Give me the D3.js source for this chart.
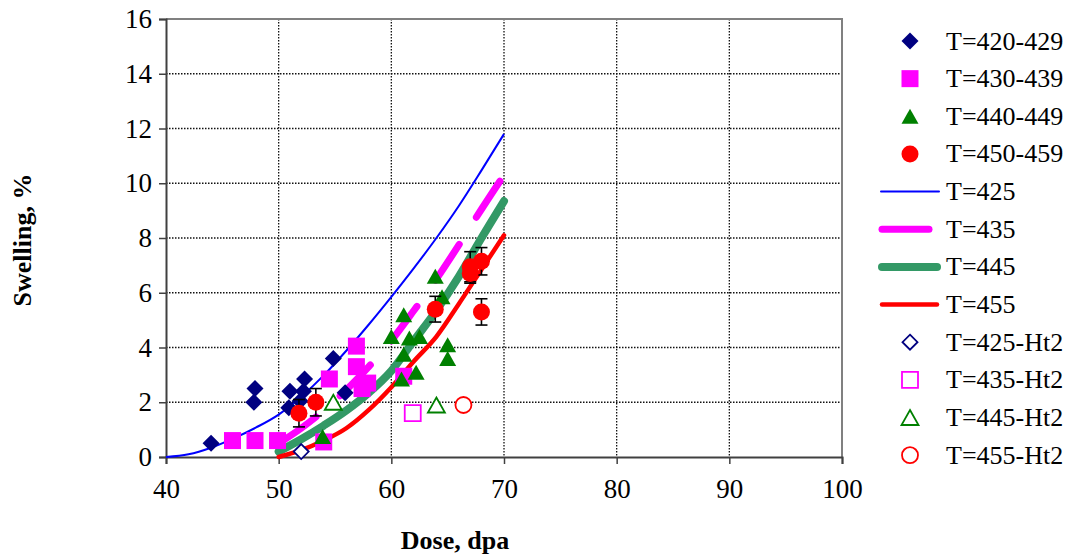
<!DOCTYPE html>
<html><head><meta charset="utf-8">
<script src="https://cdn.jsdelivr.net/npm/d3@7"></script>
<style>body{margin:0;background:#fff}svg{display:block}</style>
</head><body>
<svg id="chart" width="1072" height="558"></svg>
<script>
// ---------- data ----------
const xTicks = [40, 50, 60, 70, 80, 90, 100];
const yTicks = [0, 2, 4, 6, 8, 10, 12, 14, 16];

// measured points [dose, swelling]
const d420 = [[44,0.5],[47.9,2.5],[47.8,2.0],[51.0,2.4],[50.9,1.8],[52.3,2.85],[52.2,2.4],[51.9,2.05],[54.85,3.6],[55.9,2.35]];
const d430 = [[45.9,0.6],[47.9,0.6],[49.9,0.6],[54.0,0.55],[54.5,2.85],[56.9,4.05],[56.9,3.3],[57.4,2.5],[57.9,2.7],[61.1,2.95]];
const d440 = [[53.9,0.75],[60.9,2.85],[61.1,5.2],[60.0,4.4],[61.6,4.35],[62.5,4.4],[61.1,3.75],[62.2,3.1],[65.0,4.1],[65.0,3.6],[63.9,6.6],[64.5,5.85]];
const d450 = [[51.8,1.6],[53.3,2.0],[63.9,5.4],[68.0,5.3],[67.0,6.95],[68.0,7.15],[67.0,6.7]];
const d450Err = [0.5, 0.5, 0.47, 0.48, 0.55, 0.5, 0.35];

// model curves
const fit425 = [[40,0],[42,0.1],[44,0.34],[46,0.68],[48,1.08],[50,1.55],[52,2.2],[54,2.98],[56,3.88],[58,4.84],[60,5.85],[62,6.9],[64,8.0],[66,9.18],[68,10.47],[70,11.8]];
const fit435 = [[50,0.5],[52,1.05],[54,1.7],[56,2.45],[58,3.3],[60,4.25],[62,5.35],[64,6.5],[66,7.75],[68,9.05],[70,10.3]];
const fit445 = [[50,0.2],[52,0.65],[54,1.15],[56,1.7],[58,2.35],[60,3.15],[62,4.25],[64,5.35],[66,6.6],[68,8.0],[70,9.35]];
const fit455 = [[50,0.0],[52,0.25],[54,0.6],[56,1.05],[58,1.72],[60,2.55],[62,3.5],[64,4.4],[66,5.6],[68,6.85],[70,8.1]];

// after heat treatment 2
const ht425 = [[52.0,0.2]];
const ht435 = [[61.9,1.6]];
const ht445 = [[54.85,2.0],[64.0,1.9]];
const ht455 = [[66.4,1.9]];

const legendLabels = ["T=420-429","T=430-439","T=440-449","T=450-459","T=425","T=435","T=445","T=455","T=425-Ht2","T=435-Ht2","T=445-Ht2","T=455-Ht2"];

// ---------- layout ----------
const svg = d3.select("#chart");
const L = 166, R = 842, T = 19, B = 457;
const x = d3.scaleLinear().domain([40,100]).range([L,R]);
const y = d3.scaleLinear().domain([0,16]).range([B,T]);
const FONT = "'Liberation Serif','Times New Roman',serif";

// gridlines
const grid = svg.append("g");
grid.selectAll(".gx").data(xTicks.filter(v=>v>40&&v<100)).join("line")
  .attr("x1",d=>x(d)).attr("x2",d=>x(d)).attr("y1",T).attr("y2",B)
  .attr("stroke","#111").attr("stroke-width",1.3).attr("stroke-dasharray","1.5,1.5");
grid.selectAll(".gy").data(yTicks.filter(v=>v>0&&v<16)).join("line")
  .attr("x1",L).attr("x2",R).attr("y1",d=>y(d)).attr("y2",d=>y(d))
  .attr("stroke","#111").attr("stroke-width",1.3).attr("stroke-dasharray","1.5,1.5");

// frame (top / right)
svg.append("path").attr("d",`M${L},${T}H${R}V${B}`).attr("fill","none").attr("stroke","#808080").attr("stroke-width",2);

// axes
const xAxis = d3.axisBottom(x).tickValues(xTicks).tickSize(7).tickPadding(15).tickFormat(d3.format("d"));
const yAxis = d3.axisLeft(y).tickValues(yTicks).tickSize(7).tickPadding(7).tickFormat(d3.format("d"));
const gx = svg.append("g").attr("transform",`translate(0,${B})`).call(xAxis);
const gy = svg.append("g").attr("transform",`translate(${L},0)`).call(yAxis);
[gx,gy].forEach(g=>{
  g.select(".domain").attr("stroke","#404040").attr("stroke-width",2);
  g.selectAll(".tick line").attr("stroke","#404040").attr("stroke-width",1.5);
  g.selectAll(".tick text").attr("font-family",FONT).attr("font-size",27).attr("fill","#000");
});

// axis titles
svg.append("text").attr("x",455).attr("y",549).attr("text-anchor","middle")
  .attr("font-family",FONT).attr("font-weight","bold").attr("font-size",26).text("Dose, dpa");
svg.append("text").attr("transform",`translate(31,240) rotate(-90)`).attr("text-anchor","middle")
  .attr("font-family",FONT).attr("font-weight","bold").attr("font-size",26).text("Swelling, %");

// ---------- curves ----------
const line = d3.line().x(d=>x(d[0])).y(d=>y(d[1])).curve(d3.curveMonotoneX);
const plot = svg.append("g");
plot.append("path").attr("d",line(fit425)).attr("fill","none").attr("stroke","#0000FF").attr("stroke-width",2);
plot.append("path").attr("d",line(fit435)).attr("fill","none").attr("stroke","#FF00FF").attr("stroke-width",7)
  .attr("stroke-linecap","round").attr("stroke-dasharray","43,32").attr("stroke-dashoffset",-3);
plot.append("path").attr("d",line(fit445)).attr("fill","none").attr("stroke","#339966").attr("stroke-width",8).attr("stroke-linecap","round");
plot.append("path").attr("d",line(fit455)).attr("fill","none").attr("stroke","#FF0000").attr("stroke-width",4.5).attr("stroke-linecap","round");

// ---------- marker shapes ----------
const shapes = {
  diamond: "M0,-8.5L8.5,0L0,8.5L-8.5,0Z",
  square: "M-8.5,-8.5H8.5V8.5H-8.5Z",
  triangle: "M0,-7.5L8.5,7.5L-8.5,7.5Z",
  circle: "M8.5,0A8.5,8.5 0 1 1 -8.5,0A8.5,8.5 0 1 1 8.5,0Z",
  odiamond: "M0,-7.5L7.5,0L0,7.5L-7.5,0Z",
  osquare: "M-8,-8H8V8H-8Z",
  otriangle: "M0,-7.5L8.5,7.5L-8.5,7.5Z",
  ocircle: "M8,0A8,8 0 1 1 -8,0A8,8 0 1 1 8,0Z"
};
function markers(data, shape, fill, stroke){
  plot.append("g").selectAll("path").data(data).join("path")
    .attr("transform",d=>`translate(${x(d[0])},${y(d[1])})`)
    .attr("d",shapes[shape]).attr("fill",fill)
    .attr("stroke",stroke||"none").attr("stroke-width",stroke?1.8:0);
}
markers(d420,"diamond","#000080");
markers(d430,"square","#FF00FF");
markers(d440,"triangle","#008000");

// error bars for 450-459
const eb = plot.append("g").attr("stroke","#000").attr("stroke-width",1.6);
d450.forEach((d,i)=>{
  const cx=x(d[0]), y1=y(d[1]+d450Err[i]), y2=y(d[1]-d450Err[i]);
  eb.append("line").attr("x1",cx).attr("x2",cx).attr("y1",y1).attr("y2",y2);
  eb.append("line").attr("x1",cx-6).attr("x2",cx+6).attr("y1",y1).attr("y2",y1);
  eb.append("line").attr("x1",cx-6).attr("x2",cx+6).attr("y1",y2).attr("y2",y2);
});
markers(d450,"circle","#FF0000");

markers(ht425,"odiamond","#fff","#000080");
markers(ht435,"osquare","#fff","#FF00FF");
markers(ht445,"otriangle","#fff","#008000");
markers(ht455,"ocircle","#fff","#FF0000");

// ---------- legend ----------
const lg = svg.append("g");
const rowY = i => 41 + i*37.65;
const legItems = [
  {t:"m",s:"diamond",f:"#000080"},{t:"m",s:"square",f:"#FF00FF"},{t:"m",s:"triangle",f:"#008000"},{t:"m",s:"circle",f:"#FF0000"},
  {t:"l",c:"#0000FF",w:2,x1:881,x2:939},{t:"l",c:"#FF00FF",w:7,x1:882,x2:929},{t:"l",c:"#339966",w:8,x1:882,x2:937},{t:"l",c:"#FF0000",w:4.5,x1:882,x2:937},
  {t:"m",s:"odiamond",f:"#fff",k:"#000080"},{t:"m",s:"osquare",f:"#fff",k:"#FF00FF"},{t:"m",s:"otriangle",f:"#fff",k:"#008000"},{t:"m",s:"ocircle",f:"#fff",k:"#FF0000"}
];
legItems.forEach((it,i)=>{
  const cy=rowY(i);
  if(it.t==="m"){
    lg.append("path").attr("transform",`translate(910,${cy})`).attr("d",shapes[it.s])
      .attr("fill",it.f).attr("stroke",it.k||"none").attr("stroke-width",it.k?1.8:0);
  } else {
    lg.append("line").attr("x1",it.x1).attr("x2",it.x2).attr("y1",cy).attr("y2",cy)
      .attr("stroke",it.c).attr("stroke-width",it.w).attr("stroke-linecap","round");
  }
  lg.append("text").attr("x",946).attr("y",cy+8.5).attr("font-family",FONT).attr("font-size",26).text(legendLabels[i]);
});
</script>
</body></html>
